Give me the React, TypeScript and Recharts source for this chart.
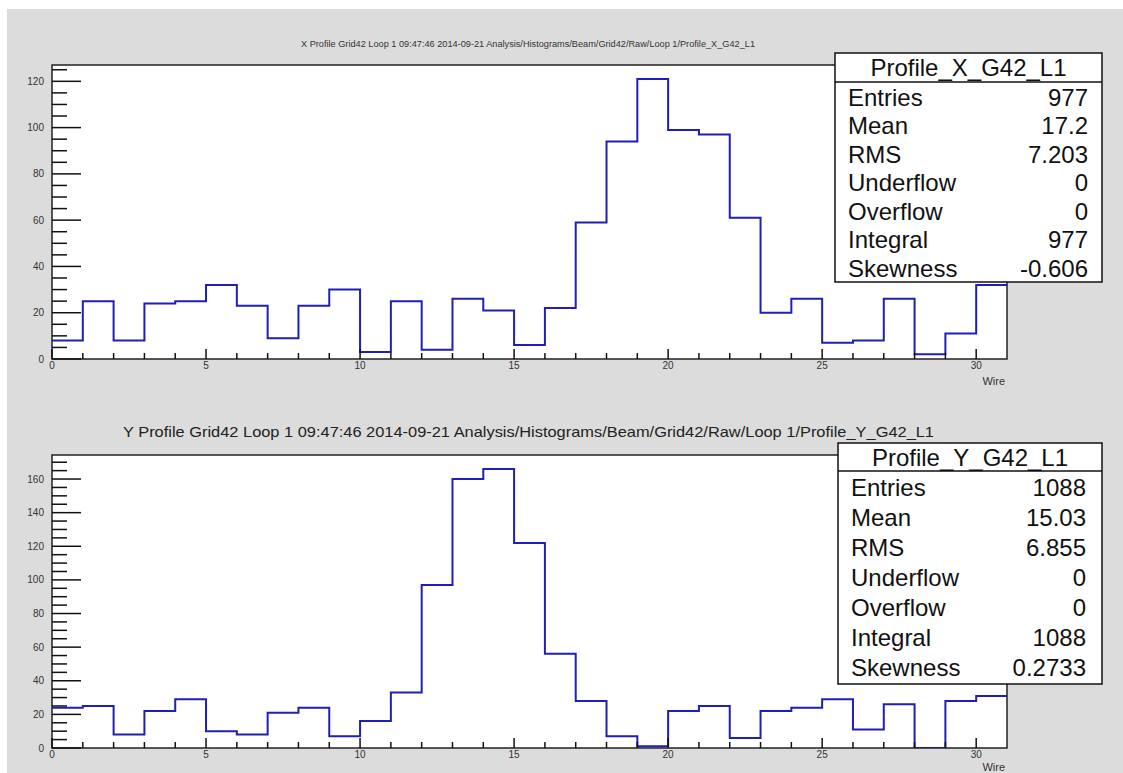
import { LineChart, Line, XAxis, YAxis, CartesianGrid, ReferenceArea } from 'recharts';

// bin edges (wire number) and counts per bin
const wires = [0, 1, 2, 3, 4, 5, 6, 7, 8, 9, 10, 11, 12, 13, 14, 15, 16, 17, 18, 19, 20, 21, 22, 23, 24, 25, 26, 27, 28, 29, 30];
const xProfile = [8, 25, 8, 24, 25, 32, 23, 9, 23, 30, 3, 25, 4, 26, 21, 6, 22, 59, 94, 121, 99, 97, 61, 20, 26, 7, 8, 26, 2, 11, 32];
const yProfile = [24, 25, 8, 22, 29, 10, 8, 21, 24, 7, 16, 33, 97, 160, 166, 122, 56, 28, 7, 1, 22, 25, 6, 22, 24, 29, 11, 26, 0, 28, 31];

const xTicks = [0, 1, 2, 3, 4, 5, 6, 7, 8, 9, 10, 11, 12, 13, 14, 15, 16, 17, 18, 19, 20, 21, 22, 23, 24, 25, 26, 27, 28, 29, 30];
const yTicksTop = [0, 5, 10, 15, 20, 25, 30, 35, 40, 45, 50, 55, 60, 65, 70, 75, 80, 85, 90, 95, 100, 105, 110, 115, 120, 125];
const yTicksBottom = [0, 5, 10, 15, 20, 25, 30, 35, 40, 45, 50, 55, 60, 65, 70, 75, 80, 85, 90, 95, 100, 105, 110, 115, 120, 125, 130, 135, 140, 145, 150, 155, 160, 165, 170];

const statLabels = ['Entries', 'Mean', 'RMS', 'Underflow', 'Overflow', 'Integral', 'Skewness'];
const xStats = ['977', '17.2', '7.203', '0', '0', '977', '-0.606'];
const yStats = ['1088', '15.03', '6.855', '0', '0', '1088', '0.2733'];

const xTitle = 'X Profile Grid42 Loop 1  09:47:46  2014-09-21  Analysis/Histograms/Beam/Grid42/Raw/Loop 1/Profile_X_G42_L1';
const yTitle = 'Y Profile Grid42 Loop 1  09:47:46  2014-09-21  Analysis/Histograms/Beam/Grid42/Raw/Loop 1/Profile_Y_G42_L1';

const FONT = '"Liberation Sans", Arial, sans-serif';
const LINE = '#1f1fb8';

function toSteps(values: number[]) {
  const rows = wires.map((w, i) => ({ wire: w, v: values[i] }));
  // closing edge of the last bin so the step reaches x = 31
  rows.push({ wire: 31, v: values[values.length - 1] });
  return rows;
}

const YTick = (props: any) => {
  const { x, y, payload } = props;
  const major = payload.value % 20 === 0;
  return (
    <g>
      <line x1={x} x2={x + (major ? 29 : 15)} y1={y} y2={y} stroke="#111" strokeWidth={1.5} />
      {major && (
        <text x={x - 8} y={y} dy={3.5} textAnchor="end" fontSize={10} fill="#333" fontFamily={FONT}>
          {payload.value}
        </text>
      )}
    </g>
  );
};

const XTick = (props: any) => {
  const { x, y, payload } = props;
  const major = payload.value % 5 === 0;
  return (
    <g>
      <line x1={x} x2={x} y1={y} y2={y - (major ? 10 : 6)} stroke="#111" strokeWidth={1.5} />
      {major && (
        <text x={x} y={y + 10} textAnchor="middle" fontSize={10} fill="#333" fontFamily={FONT}>
          {payload.value}
        </text>
      )}
    </g>
  );
};

function Histo({ values, yMax, yTicks, height, bottom, xAxisHeight }: any) {
  return (
    <LineChart
      width={1123}
      height={height}
      data={toSteps(values)}
      margin={{ top: 65, right: 116, bottom, left: 0 }}
    >
      <CartesianGrid horizontal={false} vertical={false} fill="#ffffff" />
      <XAxis
        dataKey="wire"
        type="number"
        domain={[0, 31]}
        ticks={xTicks}
        interval={0}
        height={xAxisHeight}
        tickSize={0}
        tickMargin={0}
        axisLine={false}
        tick={<XTick />}
      />
      <YAxis
        type="number"
        domain={[0, yMax]}
        ticks={yTicks}
        interval={0}
        width={52}
        tickSize={0}
        tickMargin={0}
        axisLine={false}
        tick={<YTick />}
        allowDataOverflow
      />
      <Line
        type="stepAfter"
        dataKey="v"
        stroke={LINE}
        strokeWidth={2}
        dot={false}
        activeDot={false}
        isAnimationActive={false}
      />
      <ReferenceArea x1={0} x2={31} y1={0} y2={yMax} fill="none" stroke="#222" strokeWidth={1.5} ifOverflow="visible" />
    </LineChart>
  );
}

function StatsBox({ x, y, w, h, titleH, title, values, firstRow, step, labelX, valueX }: any) {
  return (
    <g fontFamily={FONT}>
      <rect x={x} y={y} width={w} height={h} fill="#ffffff" stroke="#111" strokeWidth={1.5} />
      <line x1={x} x2={x + w} y1={y + titleH} y2={y + titleH} stroke="#111" strokeWidth={1.5} />
      <text x={x + w / 2} y={y + titleH / 2 + 8.5} textAnchor="middle" fontSize={24} fill="#111">
        {title}
      </text>
      {statLabels.map((lab, i) => (
        <g key={lab}>
          <text x={labelX} y={firstRow + step * i + 8.5} fontSize={24} fill="#111">
            {lab}
          </text>
          <text x={valueX} y={firstRow + step * i + 8.5} fontSize={24} fill="#111" textAnchor="end">
            {values[i]}
          </text>
        </g>
      ))}
    </g>
  );
}

export default function App() {
  return (
    <div style={{ position: 'absolute', left: 0, top: 0, width: 1123, height: 773, background: '#ffffff', overflow: 'hidden' }}>
      <div style={{ position: 'absolute', left: 7, top: 9, width: 1116, height: 764, background: '#dcdcdc' }} />
      <div style={{ position: 'absolute', left: 0, top: 0 }}>
        <Histo values={xProfile} yMax={127.05} yTicks={yTicksTop} height={400} bottom={10} xAxisHeight={31} />
      </div>
      <div style={{ position: 'absolute', left: 0, top: 390 }}>
        <Histo values={yProfile} yMax={174.3} yTicks={yTicksBottom} height={383} bottom={0} xAxisHeight={25} />
      </div>
      <svg width={1123} height={773} style={{ position: 'absolute', left: 0, top: 0, pointerEvents: 'none' }}>
        <text x={528} y={47} textAnchor="middle" fontSize={8.5} fill="#333" fontFamily={FONT} textLength={454} lengthAdjust="spacingAndGlyphs">
          {xTitle}
        </text>
        <text x={528.5} y={437} textAnchor="middle" fontSize={15} fill="#222" fontFamily={FONT} textLength={811} lengthAdjust="spacingAndGlyphs">
          {yTitle}
        </text>
        <text x={1005} y={385} textAnchor="end" fontSize={11} fill="#333" fontFamily={FONT}>Wire</text>
        <text x={1005} y={771} textAnchor="end" fontSize={11} fill="#333" fontFamily={FONT}>Wire</text>
        <StatsBox x={835} y={53} w={267} h={229} titleH={29} title="Profile_X_G42_L1" values={xStats}
          firstRow={97} step={28.5} labelX={848} valueX={1088} />
        <StatsBox x={838} y={443} w={264} h={241} titleH={28} title="Profile_Y_G42_L1" values={yStats}
          firstRow={487} step={30} labelX={851} valueX={1086} />
      </svg>
    </div>
  );
}
